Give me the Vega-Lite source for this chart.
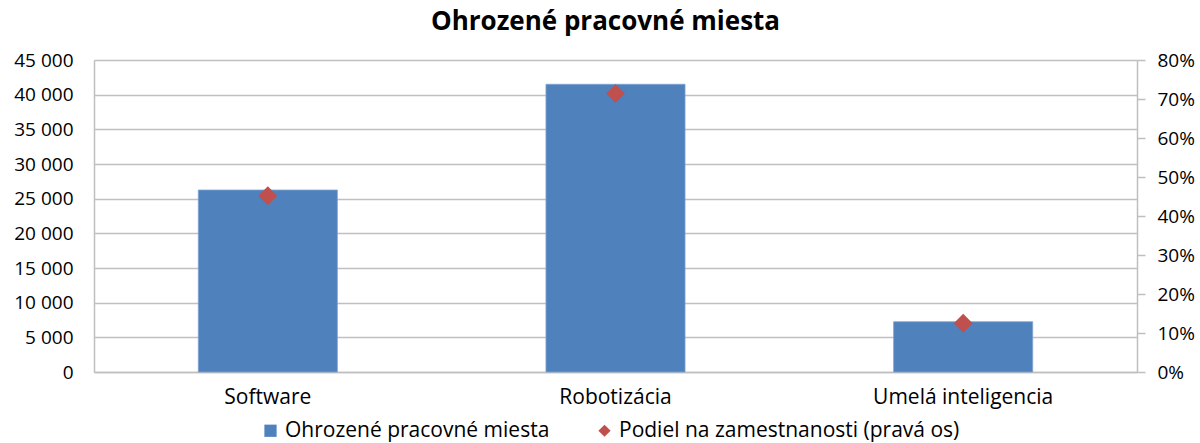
{
  "$schema": "https://vega.github.io/schema/vega-lite/v6.json",
  "width": 1043,
  "height": 312,
  "autosize": {"type": "none"},
  "padding": {"left": 94, "top": 60, "right": 63, "bottom": 71},
  "background": "white",
  "title": {
    "text": "Ohrozené pracovné miesta",
    "font": "Open Sans",
    "fontSize": 26,
    "fontWeight": "bold",
    "color": "#000000",
    "anchor": "middle",
    "dx": -10,
    "offset": 16
  },
  "config": {
    "legend": {
      "title": null,
      "orient": "none",
      "direction": "horizontal",
      "legendX": 166,
      "legendY": 360,
      "labelFont": "Open Sans",
      "labelFontSize": 21,
      "labelColor": "#000000",
      "labelLimit": 0,
      "symbolSize": 150,
      "symbolStrokeWidth": 0,
      "columnPadding": 44,
      "labelOffset": 4
    }
  },
  "data": {
    "values": [
      {"kategoria": "Software", "miesta": 26250, "podiel": 0.452},
      {"kategoria": "Robotizácia", "miesta": 41500, "podiel": 0.714},
      {"kategoria": "Umelá inteligencia", "miesta": 7250, "podiel": 0.125}
    ]
  },
  "encoding": {
    "x": {
      "field": "kategoria",
      "type": "nominal",
      "sort": null,
      "scale": {"paddingInner": 0.6, "paddingOuter": 0.3},
      "axis": {
        "title": null,
        "labelAngle": 0,
        "labelFont": "Open Sans",
        "labelFontSize": 21,
        "labelLimit": 0,
        "labelColor": "#000000",
        "labelPadding": 14,
        "ticks": false,
        "domainColor": "#BFBFBF",
        "domainWidth": 1.5
      }
    }
  },
  "layer": [
    {
      "mark": {"type": "bar", "color": "#4F81BD", "stroke": "#7FA3D0", "strokeWidth": 0.8},
      "encoding": {
        "y": {
          "field": "miesta",
          "type": "quantitative",
          "scale": {"domain": [0, 45000], "nice": false},
          "axis": {
            "title": null,
            "values": [0, 5000, 10000, 15000, 20000, 25000, 30000, 35000, 40000, 45000],
            "labelExpr": "replace(format(datum.value, ','), /,/g, ' ')",
            "labelFont": "Open Sans",
            "labelFontSize": 19,
            "labelColor": "#000000",
            "labelPadding": 21,
            "ticks": false,
            "domain": true,
            "domainColor": "#BFBFBF",
            "domainWidth": 1.5,
            "grid": true,
            "gridColor": "#C0C0C0",
            "gridWidth": 1.5
          }
        },
        "color": {
          "datum": "Ohrozené pracovné miesta",
          "type": "nominal",
          "scale": {
            "domain": ["Ohrozené pracovné miesta", "Podiel na zamestnanosti (pravá os)"],
            "range": ["#4F81BD", "#C0504D"]
          }
        }
      }
    },
    {
      "mark": {"type": "point", "filled": true, "size": 360, "opacity": 1},
      "encoding": {
        "y": {
          "field": "podiel",
          "type": "quantitative",
          "scale": {"domain": [0, 0.8], "nice": false},
          "axis": {
            "orient": "right",
            "title": null,
            "values": [0, 0.1, 0.2, 0.3, 0.4, 0.5, 0.6, 0.7, 0.8],
            "format": ".0%",
            "labelFont": "Open Sans",
            "labelFontSize": 19,
            "labelColor": "#000000",
            "labelPadding": 12,
            "ticks": true,
            "tickSize": 8,
            "tickColor": "#BFBFBF",
            "tickWidth": 1.5,
            "domain": true,
            "domainColor": "#BFBFBF",
            "domainWidth": 1.5,
            "grid": false
          }
        },
        "color": {"datum": "Podiel na zamestnanosti (pravá os)", "type": "nominal"},
        "shape": {
          "datum": "Podiel na zamestnanosti (pravá os)",
          "type": "nominal",
          "scale": {
            "domain": ["Ohrozené pracovné miesta", "Podiel na zamestnanosti (pravá os)"],
            "range": ["square", "diamond"]
          }
        }
      }
    }
  ],
  "resolve": {"scale": {"y": "independent"}}
}
